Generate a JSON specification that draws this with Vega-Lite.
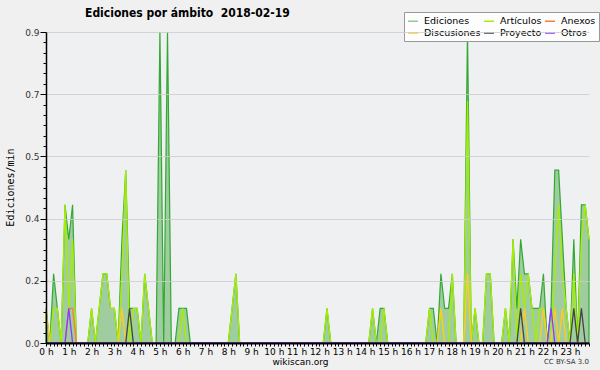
{
"$schema": "https://vega.github.io/schema/vega-lite/v6.json",
"width": 543, "height": 311,
"autosize": "none",
"padding": {"left": 46, "top": 32, "right": 11, "bottom": 27},
"background": "#f0f0f0",
"config": {"view": {"fill": "#eef0f2", "stroke": null}, "font": "DejaVu Sans"},
"title": {"text": "Ediciones por ámbito\u00a0 2018-02-19", "anchor": "start", "dx": 80, "dy": 18, "offset": 10, "fontSize": 12, "font": "DejaVu Sans Condensed, DejaVu Sans", "fontWeight": "bold", "color": "#000000"},
"data": {"values": [
{"t":0,"Ediciones":0.1,"Artículos":0,"Anexos":0,"Discusiones":0.1,"Proyecto":0,"Otros":0},
{"t":10,"Ediciones":0,"Artículos":0,"Anexos":0,"Discusiones":0,"Proyecto":0,"Otros":0},
{"t":20,"Ediciones":0.2,"Artículos":0.1,"Anexos":0,"Discusiones":0,"Proyecto":0,"Otros":0},
{"t":30,"Ediciones":0.1,"Artículos":0.1,"Anexos":0,"Discusiones":0,"Proyecto":0,"Otros":0},
{"t":40,"Ediciones":0,"Artículos":0,"Anexos":0,"Discusiones":0,"Proyecto":0,"Otros":0},
{"t":50,"Ediciones":0.4,"Artículos":0.4,"Anexos":0,"Discusiones":0,"Proyecto":0,"Otros":0},
{"t":60,"Ediciones":0.3,"Artículos":0.1,"Anexos":0.1,"Discusiones":0,"Proyecto":0,"Otros":0.1},
{"t":70,"Ediciones":0.4,"Artículos":0.3,"Anexos":0.1,"Discusiones":0,"Proyecto":0,"Otros":0},
{"t":80,"Ediciones":0,"Artículos":0,"Anexos":0,"Discusiones":0,"Proyecto":0,"Otros":0},
{"t":90,"Ediciones":0,"Artículos":0,"Anexos":0,"Discusiones":0,"Proyecto":0,"Otros":0},
{"t":100,"Ediciones":0,"Artículos":0,"Anexos":0,"Discusiones":0,"Proyecto":0,"Otros":0},
{"t":110,"Ediciones":0,"Artículos":0,"Anexos":0,"Discusiones":0,"Proyecto":0,"Otros":0},
{"t":120,"Ediciones":0.1,"Artículos":0.1,"Anexos":0,"Discusiones":0,"Proyecto":0,"Otros":0},
{"t":130,"Ediciones":0,"Artículos":0,"Anexos":0,"Discusiones":0,"Proyecto":0,"Otros":0},
{"t":140,"Ediciones":0.1,"Artículos":0.1,"Anexos":0,"Discusiones":0,"Proyecto":0,"Otros":0},
{"t":150,"Ediciones":0.2,"Artículos":0.2,"Anexos":0,"Discusiones":0,"Proyecto":0,"Otros":0},
{"t":160,"Ediciones":0.2,"Artículos":0.2,"Anexos":0,"Discusiones":0,"Proyecto":0,"Otros":0},
{"t":170,"Ediciones":0.1,"Artículos":0.1,"Anexos":0,"Discusiones":0,"Proyecto":0,"Otros":0},
{"t":180,"Ediciones":0.1,"Artículos":0.1,"Anexos":0,"Discusiones":0,"Proyecto":0,"Otros":0},
{"t":190,"Ediciones":0,"Artículos":0,"Anexos":0,"Discusiones":0,"Proyecto":0,"Otros":0},
{"t":200,"Ediciones":0.3,"Artículos":0.2,"Anexos":0,"Discusiones":0.1,"Proyecto":0,"Otros":0},
{"t":210,"Ediciones":0.5,"Artículos":0.5,"Anexos":0,"Discusiones":0,"Proyecto":0,"Otros":0},
{"t":220,"Ediciones":0.1,"Artículos":0,"Anexos":0,"Discusiones":0,"Proyecto":0.1,"Otros":0},
{"t":230,"Ediciones":0.1,"Artículos":0.1,"Anexos":0,"Discusiones":0,"Proyecto":0,"Otros":0},
{"t":240,"Ediciones":0.1,"Artículos":0.1,"Anexos":0,"Discusiones":0,"Proyecto":0,"Otros":0},
{"t":250,"Ediciones":0,"Artículos":0,"Anexos":0,"Discusiones":0,"Proyecto":0,"Otros":0},
{"t":260,"Ediciones":0.2,"Artículos":0.2,"Anexos":0,"Discusiones":0,"Proyecto":0,"Otros":0},
{"t":270,"Ediciones":0.1,"Artículos":0.1,"Anexos":0,"Discusiones":0,"Proyecto":0,"Otros":0},
{"t":280,"Ediciones":0,"Artículos":0,"Anexos":0,"Discusiones":0,"Proyecto":0,"Otros":0},
{"t":290,"Ediciones":0,"Artículos":0,"Anexos":0,"Discusiones":0,"Proyecto":0,"Otros":0},
{"t":300,"Ediciones":0.9,"Artículos":0,"Anexos":0,"Discusiones":0,"Proyecto":0,"Otros":0},
{"t":310,"Ediciones":0,"Artículos":0,"Anexos":0,"Discusiones":0,"Proyecto":0,"Otros":0},
{"t":320,"Ediciones":0.9,"Artículos":0,"Anexos":0,"Discusiones":0,"Proyecto":0,"Otros":0},
{"t":330,"Ediciones":0,"Artículos":0,"Anexos":0,"Discusiones":0,"Proyecto":0,"Otros":0},
{"t":340,"Ediciones":0,"Artículos":0,"Anexos":0,"Discusiones":0,"Proyecto":0,"Otros":0},
{"t":350,"Ediciones":0.1,"Artículos":0,"Anexos":0,"Discusiones":0,"Proyecto":0,"Otros":0},
{"t":360,"Ediciones":0.1,"Artículos":0.1,"Anexos":0,"Discusiones":0,"Proyecto":0,"Otros":0},
{"t":370,"Ediciones":0.1,"Artículos":0,"Anexos":0,"Discusiones":0,"Proyecto":0,"Otros":0},
{"t":380,"Ediciones":0,"Artículos":0,"Anexos":0,"Discusiones":0,"Proyecto":0,"Otros":0},
{"t":390,"Ediciones":0,"Artículos":0,"Anexos":0,"Discusiones":0,"Proyecto":0,"Otros":0},
{"t":400,"Ediciones":0,"Artículos":0,"Anexos":0,"Discusiones":0,"Proyecto":0,"Otros":0},
{"t":410,"Ediciones":0,"Artículos":0,"Anexos":0,"Discusiones":0,"Proyecto":0,"Otros":0},
{"t":420,"Ediciones":0,"Artículos":0,"Anexos":0,"Discusiones":0,"Proyecto":0,"Otros":0},
{"t":430,"Ediciones":0,"Artículos":0,"Anexos":0,"Discusiones":0,"Proyecto":0,"Otros":0},
{"t":440,"Ediciones":0,"Artículos":0,"Anexos":0,"Discusiones":0,"Proyecto":0,"Otros":0},
{"t":450,"Ediciones":0,"Artículos":0,"Anexos":0,"Discusiones":0,"Proyecto":0,"Otros":0},
{"t":460,"Ediciones":0,"Artículos":0,"Anexos":0,"Discusiones":0,"Proyecto":0,"Otros":0},
{"t":470,"Ediciones":0,"Artículos":0,"Anexos":0,"Discusiones":0,"Proyecto":0,"Otros":0},
{"t":480,"Ediciones":0,"Artículos":0,"Anexos":0,"Discusiones":0,"Proyecto":0,"Otros":0},
{"t":490,"Ediciones":0.1,"Artículos":0.1,"Anexos":0,"Discusiones":0,"Proyecto":0,"Otros":0},
{"t":500,"Ediciones":0.2,"Artículos":0.2,"Anexos":0,"Discusiones":0,"Proyecto":0,"Otros":0},
{"t":510,"Ediciones":0,"Artículos":0,"Anexos":0,"Discusiones":0,"Proyecto":0,"Otros":0},
{"t":520,"Ediciones":0,"Artículos":0,"Anexos":0,"Discusiones":0,"Proyecto":0,"Otros":0},
{"t":530,"Ediciones":0,"Artículos":0,"Anexos":0,"Discusiones":0,"Proyecto":0,"Otros":0},
{"t":540,"Ediciones":0,"Artículos":0,"Anexos":0,"Discusiones":0,"Proyecto":0,"Otros":0},
{"t":550,"Ediciones":0,"Artículos":0,"Anexos":0,"Discusiones":0,"Proyecto":0,"Otros":0},
{"t":560,"Ediciones":0,"Artículos":0,"Anexos":0,"Discusiones":0,"Proyecto":0,"Otros":0},
{"t":570,"Ediciones":0,"Artículos":0,"Anexos":0,"Discusiones":0,"Proyecto":0,"Otros":0},
{"t":580,"Ediciones":0,"Artículos":0,"Anexos":0,"Discusiones":0,"Proyecto":0,"Otros":0},
{"t":590,"Ediciones":0,"Artículos":0,"Anexos":0,"Discusiones":0,"Proyecto":0,"Otros":0},
{"t":600,"Ediciones":0,"Artículos":0,"Anexos":0,"Discusiones":0,"Proyecto":0,"Otros":0},
{"t":610,"Ediciones":0,"Artículos":0,"Anexos":0,"Discusiones":0,"Proyecto":0,"Otros":0},
{"t":620,"Ediciones":0,"Artículos":0,"Anexos":0,"Discusiones":0,"Proyecto":0,"Otros":0},
{"t":630,"Ediciones":0,"Artículos":0,"Anexos":0,"Discusiones":0,"Proyecto":0,"Otros":0},
{"t":640,"Ediciones":0,"Artículos":0,"Anexos":0,"Discusiones":0,"Proyecto":0,"Otros":0},
{"t":650,"Ediciones":0,"Artículos":0,"Anexos":0,"Discusiones":0,"Proyecto":0,"Otros":0},
{"t":660,"Ediciones":0,"Artículos":0,"Anexos":0,"Discusiones":0,"Proyecto":0,"Otros":0},
{"t":670,"Ediciones":0,"Artículos":0,"Anexos":0,"Discusiones":0,"Proyecto":0,"Otros":0},
{"t":680,"Ediciones":0,"Artículos":0,"Anexos":0,"Discusiones":0,"Proyecto":0,"Otros":0},
{"t":690,"Ediciones":0,"Artículos":0,"Anexos":0,"Discusiones":0,"Proyecto":0,"Otros":0},
{"t":700,"Ediciones":0,"Artículos":0,"Anexos":0,"Discusiones":0,"Proyecto":0,"Otros":0},
{"t":710,"Ediciones":0,"Artículos":0,"Anexos":0,"Discusiones":0,"Proyecto":0,"Otros":0},
{"t":720,"Ediciones":0,"Artículos":0,"Anexos":0,"Discusiones":0,"Proyecto":0,"Otros":0},
{"t":730,"Ediciones":0,"Artículos":0,"Anexos":0,"Discusiones":0,"Proyecto":0,"Otros":0},
{"t":740,"Ediciones":0.1,"Artículos":0.1,"Anexos":0,"Discusiones":0,"Proyecto":0,"Otros":0},
{"t":750,"Ediciones":0,"Artículos":0,"Anexos":0,"Discusiones":0,"Proyecto":0,"Otros":0},
{"t":760,"Ediciones":0,"Artículos":0,"Anexos":0,"Discusiones":0,"Proyecto":0,"Otros":0},
{"t":770,"Ediciones":0,"Artículos":0,"Anexos":0,"Discusiones":0,"Proyecto":0,"Otros":0},
{"t":780,"Ediciones":0,"Artículos":0,"Anexos":0,"Discusiones":0,"Proyecto":0,"Otros":0},
{"t":790,"Ediciones":0,"Artículos":0,"Anexos":0,"Discusiones":0,"Proyecto":0,"Otros":0},
{"t":800,"Ediciones":0,"Artículos":0,"Anexos":0,"Discusiones":0,"Proyecto":0,"Otros":0},
{"t":810,"Ediciones":0,"Artículos":0,"Anexos":0,"Discusiones":0,"Proyecto":0,"Otros":0},
{"t":820,"Ediciones":0,"Artículos":0,"Anexos":0,"Discusiones":0,"Proyecto":0,"Otros":0},
{"t":830,"Ediciones":0,"Artículos":0,"Anexos":0,"Discusiones":0,"Proyecto":0,"Otros":0},
{"t":840,"Ediciones":0,"Artículos":0,"Anexos":0,"Discusiones":0,"Proyecto":0,"Otros":0},
{"t":850,"Ediciones":0,"Artículos":0,"Anexos":0,"Discusiones":0,"Proyecto":0,"Otros":0},
{"t":860,"Ediciones":0.1,"Artículos":0.1,"Anexos":0,"Discusiones":0,"Proyecto":0,"Otros":0},
{"t":870,"Ediciones":0,"Artículos":0,"Anexos":0,"Discusiones":0,"Proyecto":0,"Otros":0},
{"t":880,"Ediciones":0.1,"Artículos":0,"Anexos":0,"Discusiones":0,"Proyecto":0,"Otros":0},
{"t":890,"Ediciones":0.1,"Artículos":0.1,"Anexos":0,"Discusiones":0,"Proyecto":0,"Otros":0},
{"t":900,"Ediciones":0,"Artículos":0,"Anexos":0,"Discusiones":0,"Proyecto":0,"Otros":0},
{"t":910,"Ediciones":0,"Artículos":0,"Anexos":0,"Discusiones":0,"Proyecto":0,"Otros":0},
{"t":920,"Ediciones":0,"Artículos":0,"Anexos":0,"Discusiones":0,"Proyecto":0,"Otros":0},
{"t":930,"Ediciones":0,"Artículos":0,"Anexos":0,"Discusiones":0,"Proyecto":0,"Otros":0},
{"t":940,"Ediciones":0,"Artículos":0,"Anexos":0,"Discusiones":0,"Proyecto":0,"Otros":0},
{"t":950,"Ediciones":0,"Artículos":0,"Anexos":0,"Discusiones":0,"Proyecto":0,"Otros":0},
{"t":960,"Ediciones":0,"Artículos":0,"Anexos":0,"Discusiones":0,"Proyecto":0,"Otros":0},
{"t":970,"Ediciones":0,"Artículos":0,"Anexos":0,"Discusiones":0,"Proyecto":0,"Otros":0},
{"t":980,"Ediciones":0,"Artículos":0,"Anexos":0,"Discusiones":0,"Proyecto":0,"Otros":0},
{"t":990,"Ediciones":0,"Artículos":0,"Anexos":0,"Discusiones":0,"Proyecto":0,"Otros":0},
{"t":1000,"Ediciones":0,"Artículos":0,"Anexos":0,"Discusiones":0,"Proyecto":0,"Otros":0},
{"t":1010,"Ediciones":0.1,"Artículos":0.1,"Anexos":0,"Discusiones":0,"Proyecto":0,"Otros":0},
{"t":1020,"Ediciones":0.1,"Artículos":0,"Anexos":0,"Discusiones":0,"Proyecto":0,"Otros":0},
{"t":1030,"Ediciones":0,"Artículos":0,"Anexos":0,"Discusiones":0,"Proyecto":0,"Otros":0},
{"t":1040,"Ediciones":0.2,"Artículos":0.1,"Anexos":0,"Discusiones":0.1,"Proyecto":0,"Otros":0},
{"t":1050,"Ediciones":0.1,"Artículos":0,"Anexos":0,"Discusiones":0,"Proyecto":0,"Otros":0},
{"t":1060,"Ediciones":0.1,"Artículos":0,"Anexos":0,"Discusiones":0,"Proyecto":0,"Otros":0},
{"t":1070,"Ediciones":0.2,"Artículos":0.2,"Anexos":0,"Discusiones":0,"Proyecto":0,"Otros":0},
{"t":1080,"Ediciones":0,"Artículos":0,"Anexos":0,"Discusiones":0,"Proyecto":0,"Otros":0},
{"t":1090,"Ediciones":0,"Artículos":0,"Anexos":0,"Discusiones":0,"Proyecto":0,"Otros":0},
{"t":1100,"Ediciones":0,"Artículos":0,"Anexos":0,"Discusiones":0,"Proyecto":0,"Otros":0},
{"t":1110,"Ediciones":0.9,"Artículos":0.7,"Anexos":0,"Discusiones":0.2,"Proyecto":0,"Otros":0},
{"t":1120,"Ediciones":0,"Artículos":0,"Anexos":0,"Discusiones":0,"Proyecto":0,"Otros":0},
{"t":1130,"Ediciones":0.1,"Artículos":0.1,"Anexos":0,"Discusiones":0,"Proyecto":0,"Otros":0},
{"t":1140,"Ediciones":0,"Artículos":0,"Anexos":0,"Discusiones":0,"Proyecto":0,"Otros":0},
{"t":1150,"Ediciones":0,"Artículos":0,"Anexos":0,"Discusiones":0,"Proyecto":0,"Otros":0},
{"t":1160,"Ediciones":0.2,"Artículos":0.2,"Anexos":0,"Discusiones":0,"Proyecto":0,"Otros":0},
{"t":1170,"Ediciones":0.2,"Artículos":0.2,"Anexos":0,"Discusiones":0,"Proyecto":0,"Otros":0},
{"t":1180,"Ediciones":0,"Artículos":0,"Anexos":0,"Discusiones":0,"Proyecto":0,"Otros":0},
{"t":1190,"Ediciones":0,"Artículos":0,"Anexos":0,"Discusiones":0,"Proyecto":0,"Otros":0},
{"t":1200,"Ediciones":0,"Artículos":0,"Anexos":0,"Discusiones":0,"Proyecto":0,"Otros":0},
{"t":1210,"Ediciones":0.1,"Artículos":0.1,"Anexos":0,"Discusiones":0,"Proyecto":0,"Otros":0},
{"t":1220,"Ediciones":0,"Artículos":0,"Anexos":0,"Discusiones":0,"Proyecto":0,"Otros":0},
{"t":1230,"Ediciones":0.3,"Artículos":0.3,"Anexos":0,"Discusiones":0,"Proyecto":0,"Otros":0},
{"t":1240,"Ediciones":0.1,"Artículos":0,"Anexos":0,"Discusiones":0,"Proyecto":0,"Otros":0},
{"t":1250,"Ediciones":0.3,"Artículos":0.2,"Anexos":0,"Discusiones":0,"Proyecto":0.1,"Otros":0},
{"t":1260,"Ediciones":0.2,"Artículos":0.1,"Anexos":0,"Discusiones":0.1,"Proyecto":0,"Otros":0},
{"t":1270,"Ediciones":0.2,"Artículos":0.2,"Anexos":0,"Discusiones":0,"Proyecto":0,"Otros":0},
{"t":1280,"Ediciones":0.1,"Artículos":0.1,"Anexos":0,"Discusiones":0,"Proyecto":0,"Otros":0},
{"t":1290,"Ediciones":0.1,"Artículos":0,"Anexos":0,"Discusiones":0,"Proyecto":0,"Otros":0},
{"t":1300,"Ediciones":0.1,"Artículos":0.1,"Anexos":0,"Discusiones":0,"Proyecto":0,"Otros":0},
{"t":1310,"Ediciones":0.2,"Artículos":0.1,"Anexos":0,"Discusiones":0.1,"Proyecto":0,"Otros":0},
{"t":1320,"Ediciones":0,"Artículos":0,"Anexos":0,"Discusiones":0,"Proyecto":0,"Otros":0},
{"t":1330,"Ediciones":0.1,"Artículos":0,"Anexos":0,"Discusiones":0,"Proyecto":0,"Otros":0.1},
{"t":1340,"Ediciones":0.5,"Artículos":0.2,"Anexos":0,"Discusiones":0.1,"Proyecto":0,"Otros":0},
{"t":1350,"Ediciones":0.5,"Artículos":0.4,"Anexos":0,"Discusiones":0,"Proyecto":0,"Otros":0},
{"t":1360,"Ediciones":0.3,"Artículos":0.2,"Anexos":0,"Discusiones":0.1,"Proyecto":0,"Otros":0},
{"t":1370,"Ediciones":0.1,"Artículos":0.1,"Anexos":0,"Discusiones":0,"Proyecto":0,"Otros":0},
{"t":1380,"Ediciones":0,"Artículos":0,"Anexos":0,"Discusiones":0,"Proyecto":0,"Otros":0},
{"t":1390,"Ediciones":0.3,"Artículos":0.2,"Anexos":0,"Discusiones":0,"Proyecto":0.1,"Otros":0},
{"t":1400,"Ediciones":0,"Artículos":0,"Anexos":0,"Discusiones":0,"Proyecto":0,"Otros":0},
{"t":1410,"Ediciones":0.4,"Artículos":0.3,"Anexos":0,"Discusiones":0,"Proyecto":0.1,"Otros":0},
{"t":1420,"Ediciones":0.4,"Artículos":0.4,"Anexos":0,"Discusiones":0,"Proyecto":0,"Otros":0},
{"t":1430,"Ediciones":0.3,"Artículos":0.3,"Anexos":0,"Discusiones":0,"Proyecto":0,"Otros":0}
]},
"encoding": {
  "x": {"field": "t", "type": "quantitative",
    "scale": {"domain": [0, 1430], "nice": false, "zero": false},
    "axis": {
      "zindex": 1,
      "values": [0,10,20,30,40,50,60,70,80,90,100,110,120,130,140,150,160,170,180,190,200,210,220,230,240,250,260,270,280,290,300,310,320,330,340,350,360,370,380,390,400,410,420,430,440,450,460,470,480,490,500,510,520,530,540,550,560,570,580,590,600,610,620,630,640,650,660,670,680,690,700,710,720,730,740,750,760,770,780,790,800,810,820,830,840,850,860,870,880,890,900,910,920,930,940,950,960,970,980,990,1000,1010,1020,1030,1040,1050,1060,1070,1080,1090,1100,1110,1120,1130,1140,1150,1160,1170,1180,1190,1200,1210,1220,1230,1240,1250,1260,1270,1280,1290,1300,1310,1320,1330,1340,1350,1360,1370,1380,1390,1400,1410,1420,1430],
      "labelExpr": "datum.value % 60 == 0 ? (datum.value / 60) + ' h' : ''",
      "labelOverlap": false, "labelBound": false, "labelFlush": false,
      "labelFontSize": 9, "labelColor": "#000000", "labelPadding": 1,
      "tickSize": 3, "tickColor": "#000000", "domainColor": "#000000", "domainWidth": 2,
      "grid": false,
      "title": "wikiscan.org", "titleFontSize": 9, "titleFontWeight": "normal", "titleColor": "#000000",
      "titleX": 254, "titleY": 21, "titleAnchor": null, "titleAlign": "center", "titleBaseline": "alphabetic"
    }
  },
  "y": {"field": "v", "type": "quantitative",
    "scale": {"domain": [0, 0.9], "nice": false},
    "axis": {
      "zindex": 1,
      "values": [0,0.03,0.06,0.09,0.12,0.15,0.18,0.21,0.24,0.27,0.3,0.33,0.36,0.39,0.42,0.45,0.48,0.51,0.54,0.57,0.6,0.63,0.66,0.69,0.72,0.75,0.78,0.81,0.84,0.87,0.9],
      "labelExpr": "abs(datum.value/0.18 - round(datum.value/0.18)) < 0.01 ? format(datum.value, '.1f') : ''",
      "labelOverlap": false, "labelBound": false, "labelFlush": false,
      "labelFontSize": 9, "labelColor": "#333333", "labelPadding": 1,
      "grid": true, "gridColor": "#cccccc", "gridWidth": 1.2,
      "gridOpacity": {"condition": {"test": "abs(datum.value/0.18 - round(datum.value/0.18)) < 0.01 && datum.value > 0", "value": 0.8}, "value": 0},
      "tickSize": {"condition": {"test": "abs(datum.value/0.18 - round(datum.value/0.18)) < 0.01", "value": 6}, "value": 3},
      "tickColor": "#000000", "domainColor": "#000000", "domainWidth": 1.5,
      "title": "Ediciones/min", "titleFont": "DejaVu Sans Mono", "titleFontSize": 10, "titleFontWeight": "normal", "titleColor": "#000000",
      "titleX": -36, "titleY": 155, "titleAngle": 270, "titleAlign": "center", "titleBaseline": "middle"
    }
  }
},
"layer": [
  {
    "transform": [{"fold": ["Ediciones"], "as": ["serie", "v"]}],
    "mark": {"type": "area", "fill": "#a0cda0", "fillOpacity": 1, "stroke": "#33a833", "strokeWidth": 1.2, "interpolate": "linear"}
  },
  {
    "transform": [{"fold": ["Artículos", "Anexos", "Discusiones", "Proyecto", "Otros"], "as": ["serie", "v"]}],
    "mark": {"type": "line", "strokeWidth": 1.3, "interpolate": "linear"},
    "encoding": {
      "color": {"field": "serie", "type": "nominal",
        "scale": {"domain": ["Ediciones", "Artículos", "Anexos", "Discusiones", "Proyecto", "Otros"],
                  "range": ["#8fcc8f", "#a6ee00", "#ff7a3a", "#ffcc22", "#444444", "#8a3cff"]},
        "legend": {"orient": "none", "legendX": 358, "legendY": -20, "columns": 3, "direction": "horizontal",
          "title": null, "fillColor": "#fdfdfd", "strokeColor": "#999999", "padding": 3,
          "symbolType": "stroke", "symbolSize": 100, "symbolStrokeWidth": 1.5,
          "labelFont": "DejaVu Sans", "labelFontSize": 9.5, "labelColor": "#000000", "labelOffset": 5, "rowPadding": 1, "columnPadding": 0}
      }
    }
  },
  {
    "data": {"values": [{"t": 1430, "v": 0, "txt": "CC BY-SA 3.0"}]},
    "mark": {"type": "text", "align": "right", "baseline": "alphabetic", "dy": 21, "fontSize": 7, "color": "#333333"},
    "encoding": {"text": {"field": "txt"}}
  }
]
}
